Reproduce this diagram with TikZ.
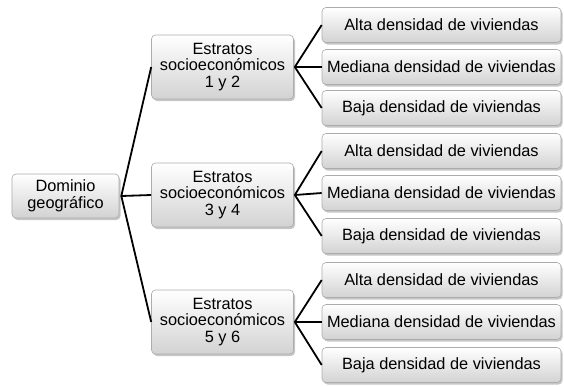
\documentclass[tikz,border=0pt]{standalone}
\usepackage{fontspec}
\setmainfont{Liberation Sans}
\usetikzlibrary{shadows}
\tikzset{
  caja/.style={draw=gray!65, line width=0.6bp, rounded corners=4bp,
    top color=white, bottom color=gray!35, align=center,
    font=\fontsize{16.4}{16.6}\selectfont, inner sep=1bp,
    drop shadow={opacity=0.45, shadow xshift=1.5bp, shadow yshift=-2bp}},
  raiz/.style={caja, minimum width=107bp, minimum height=44bp},
  estrato/.style={caja, minimum width=142bp, minimum height=64bp},
  hoja/.style={caja, minimum width=239bp, minimum height=35bp},
  rama/.style={line width=1.8bp, black}
}
\begin{document}
\begin{tikzpicture}[x=1bp,y=-1bp]
        \useasboundingbox (0,0) rectangle (564,386);

        \node [raiz] (dom) at (65.5,196) {Dominio\\geográfico};

        \node [estrato] (e12) at (222.5,67) {Estratos\\socioeconómicos\\1 y 2};
        \node [estrato] (e34) at (222.5,195) {Estratos\\socioeconómicos\\3 y 4};
        \node [estrato] (e56) at (222.5,322) {Estratos\\socioeconómicos\\5 y 6};

        \node [hoja] (a12) at (441.5,25) {Alta densidad de viviendas};
        \node [hoja] (m12) at (441.5,67) {Mediana densidad de viviendas};
        \node [hoja] (b12) at (441.5,108) {Baja densidad de viviendas};

        \node [hoja] (a34) at (441.5,151) {Alta densidad de viviendas};
        \node [hoja] (m34) at (441.5,193) {Mediana densidad de viviendas};
        \node [hoja] (b34) at (441.5,236) {Baja densidad de viviendas};

        \node [hoja] (a56) at (441.5,280) {Alta densidad de viviendas};
        \node [hoja] (m56) at (441.5,322) {Mediana densidad de viviendas};
        \node [hoja] (b56) at (441.5,365) {Baja densidad de viviendas};

        \draw [rama] ([xshift=2bp]dom.east) -- (e12.west);
        \draw [rama] ([xshift=2bp]dom.east) -- (e34.west);
        \draw [rama] ([xshift=2bp]dom.east) -- (e56.west);

        \draw [rama] ([xshift=1bp]e12.east) -- (a12.west);
        \draw [rama] ([xshift=1bp]e12.east) -- (m12.west);
        \draw [rama] ([xshift=1bp]e12.east) -- (b12.west);

        \draw [rama] ([xshift=1bp]e34.east) -- (a34.west);
        \draw [rama] ([xshift=1bp]e34.east) -- (m34.west);
        \draw [rama] ([xshift=1bp]e34.east) -- (b34.west);

        \draw [rama] ([xshift=1bp]e56.east) -- (a56.west);
        \draw [rama] ([xshift=1bp]e56.east) -- (m56.west);
        \draw [rama] ([xshift=1bp]e56.east) -- (b56.west);

    \end{tikzpicture}
\end{document}
